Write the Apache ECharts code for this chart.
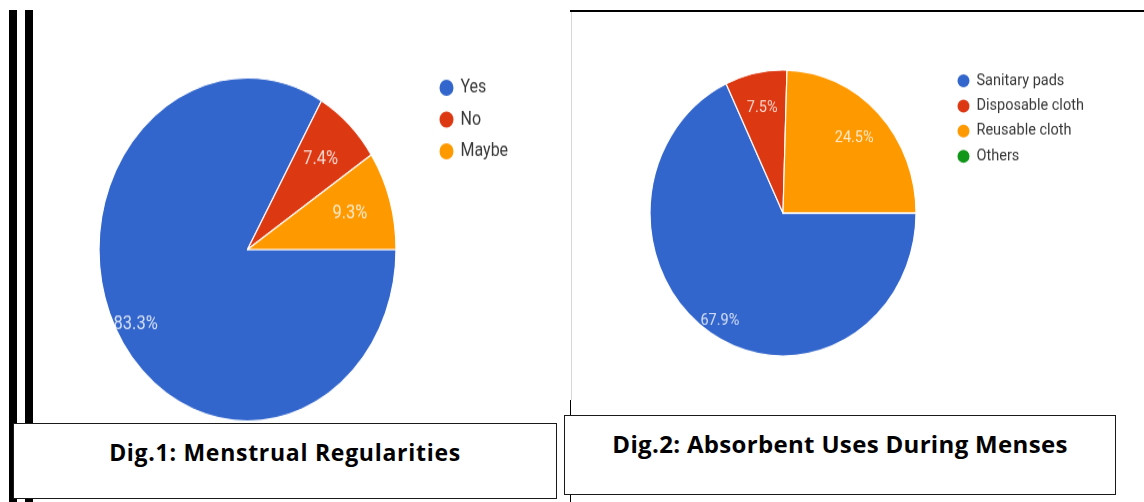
<!DOCTYPE html>
<html>
<head>
<meta charset="utf-8">
<script src="https://cdn.jsdelivr.net/npm/echarts@6/dist/echarts.min.js"></script>
<style>
  html, body { margin: 0; padding: 0; background: #fff; }
  #page { position: relative; width: 1144px; height: 502px; overflow: hidden; background: #fff; }
  .bar { position: absolute; background: #000; }
  .chart { position: absolute; transform-origin: 0 0; }
  .caption {
    position: absolute; box-sizing: border-box; background: #fff;
    border: 1.5px solid #1a1a1a;
  }
  .caption span {
    position: absolute; left: 0; right: 0; text-align: center;
    font-family: "Open Sans", "Noto Sans", sans-serif; font-weight: 700; color: #000;
    line-height: 1.2; white-space: nowrap;
  }
  .line { position: absolute; }
</style>
</head>
<body>
<div id="page">
  <div class="bar" style="left:9px;top:10px;width:8px;height:492px;"></div>
  <div class="bar" style="left:25px;top:10px;width:8px;height:492px;"></div>

  <div id="pie1" class="chart" style="left:33px;top:0;width:537px;height:370px;transform:scaleY(1.155);"></div>

  <div class="line" style="left:570px;top:10px;width:574px;height:2px;background:#000;"></div>
  <div class="line" style="left:571px;top:12px;width:1px;height:388px;background:#d8d8d8;"></div>
  <div class="line" style="left:570px;top:400px;width:1px;height:102px;background:#000;"></div>
  <div id="pie2" class="chart" style="left:572px;top:12px;width:572px;height:361px;transform:scaleY(1.075);"></div>

  <div class="caption" style="left:13px;top:423px;width:544px;height:76px;">
    <span id="cap1" data-width="351" style="top:15px;font-size:23px;">Dig.1: Menstrual Regularities</span>
  </div>
  <div class="caption" style="left:564px;top:415px;width:552px;height:80px;">
    <span id="cap2" data-width="455" style="top:14px;font-size:24px;">Dig.2: Absorbent Uses During Menses</span>
  </div>
</div>

<script>
// Menstrual regularity responses (percent of respondents)
const regCategories = ['Yes', 'No', 'Maybe'];
const regValues = [83.3, 7.4, 9.3];
const regColors = ['#3366cc', '#dc3912', '#ff9900'];

// Absorbent used during menses (percent of respondents)
const absCategories = ['Sanitary pads', 'Disposable cloth', 'Reusable cloth', 'Others'];
const absValues = [67.9, 7.5, 24.5, 0];
const absColors = ['#3366cc', '#dc3912', '#ff9900', '#109618'];

// Caption text is tracked so each line spans the width of its box's text column.
function fitCaption(el) {
  const cs = getComputedStyle(el);
  const ctx = document.createElement('canvas').getContext('2d');
  ctx.font = cs.fontWeight + ' ' + cs.fontSize + ' ' + cs.fontFamily;
  const natural = ctx.measureText(el.textContent).width;
  const target = parseFloat(el.dataset.width);
  const n = el.textContent.length - 1;
  el.style.letterSpacing = ((target - natural) / n).toFixed(3) + 'px';
}

// A pie starting at 3 o'clock and running clockwise. The percentage labels
// sit on a polar grid laid over the pie (same centre, same radius, angle
// axis 0–100 %), at each slice's mid-angle: small slices nearer the middle,
// large slices nearer the rim.
function pieOption(cfg) {
  const r = cfg.radius;
  const main = cfg.names.map((n, i) => ({
    name: n, value: cfg.values[i], itemStyle: { color: cfg.colors[i] }
  }));
  let cum = 0;
  const labels = cfg.values.map((v) => {
    const mid = cum + v / 2;
    cum += v;
    return { value: [v >= 50 ? cfg.largeMid : cfg.smallMid, mid], label: { show: v > 0 } };
  });
  return {
    animation: false,
    legend: {
      orient: 'vertical', left: cfg.legendLeft, top: cfg.legendTop,
      icon: 'circle', itemWidth: cfg.iconSize, itemHeight: cfg.iconSize,
      itemGap: cfg.legendGap, selectedMode: false,
      textStyle: { fontFamily: 'Roboto', fontSize: cfg.legendSize, color: '#383838',
                   padding: [0, 0, 0, 1] },
      data: cfg.names
    },
    polar: { center: cfg.center, radius: r },
    angleAxis: { type: 'value', min: 0, max: 100, startAngle: 0, clockwise: true, show: false },
    radiusAxis: { type: 'value', min: 0, max: 1, show: false },
    series: [
      {
        type: 'pie', center: cfg.center, radius: [0, r],
        startAngle: 0, clockwise: true, avoidLabelOverlap: false,
        label: { show: false }, labelLine: { show: false },
        itemStyle: { borderColor: '#fff', borderWidth: 1.2 },
        emphasis: { disabled: true },
        data: main
      },
      {
        type: 'scatter', coordinateSystem: 'polar', silent: true, z: 5, clip: false,
        symbolSize: 1, itemStyle: { color: 'rgba(0,0,0,0)' },
        emphasis: { disabled: true },
        label: {
          position: 'inside', color: '#fff', fontFamily: 'Roboto',
          fontSize: cfg.labelSize,
          formatter: (p) => cfg.values[p.dataIndex] + '%'
        },
        data: labels
      }
    ]
  };
}

const chart1 = echarts.init(document.getElementById('pie1'), null, { renderer: 'canvas' });
chart1.setOption(pieOption({
  names: regCategories, values: regValues, colors: regColors,
  center: [214.5, 216], radius: 148.5,
  smallMid: 0.72, largeMid: 0.87, labelSize: 16.5,
  legendLeft: 399.5, legendTop: 62, iconSize: 16, legendGap: 9.5, legendSize: 16
}));

const chart2 = echarts.init(document.getElementById('pie2'), null, { renderer: 'canvas' });
chart2.setOption(pieOption({
  names: absCategories, values: absValues, colors: absColors,
  center: [211, 187], radius: 133,
  smallMid: 0.75, largeMid: 0.89, labelSize: 14.5,
  legendLeft: 378.5, legendTop: 51, iconSize: 14, legendGap: 7.4, legendSize: 14.5
}));

document.fonts.ready.then(() => {
  fitCaption(document.getElementById('cap1'));
  fitCaption(document.getElementById('cap2'));
});
</script>
</body>
</html>
